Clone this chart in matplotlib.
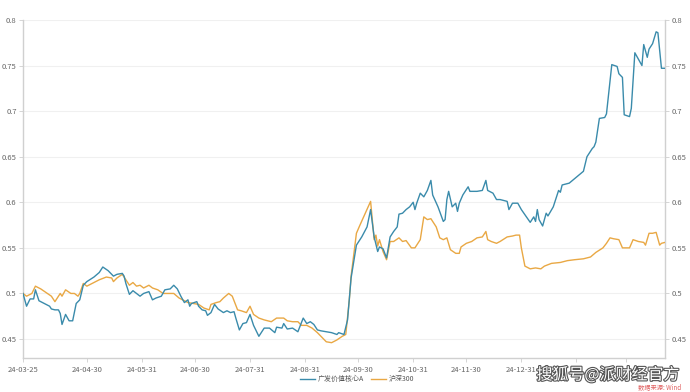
import matplotlib
matplotlib.use("Agg")
import matplotlib.pyplot as plt
import matplotlib.dates as mdates
import matplotlib.patheffects as pe
import numpy as np
import pandas as pd

plt.rcParams['font.family'] = ['Noto Sans CJK SC', 'DejaVu Sans']

start_date = "2024-03-25"
series_names = ["广发价值核心A", "沪深300"]

blue_days = [0,2,4,6,7,9,13,15,16,18,20,21,22,24,26,28,30,32,34,36,40,43,45,48,51,53,56,57,58,60,
             62,64,66,68,71,73,75,78,80,83,85,87,89,91,93,94,95,98,99,101,103,104,106,108,110,113,
             115,117,119,120,122,124,126,128,130,133,136,139,142,143,146,147,149,152,155,158,160,
             162,164,166,168,171,174,177,178,181,183,185,188,191,194,196,198,200,201,203,205,207,
             209,211,212,214,216,218,220,221,222,224,226,228,230,231,234,237,238,239,240,242,244,
             245,246,248,251,252,256,259,261,262,265,267,269,273,274,276,279,281,286,288,289,290,
             291,293,295,296,299,302,303,304,308,316,318,321,322,323,325,328,329,332,335,336,338,
             339,342,343,345,349,350,352,353,355,357,358,360,362]
blue_vals = [0.500,0.486,0.494,0.494,0.504,0.492,0.488,0.486,0.483,0.482,0.482,0.478,0.466,0.477,
             0.470,0.470,0.489,0.493,0.509,0.513,0.518,0.523,0.529,0.525,0.519,0.521,0.522,0.519,
             0.511,0.499,0.503,0.500,0.497,0.500,0.502,0.493,0.495,0.497,0.504,0.505,0.509,0.505,
             0.497,0.490,0.493,0.486,0.489,0.491,0.486,0.482,0.481,0.476,0.479,0.488,0.483,0.479,
             0.481,0.479,0.480,0.473,0.460,0.467,0.468,0.477,0.465,0.453,0.462,0.462,0.457,0.463,
             0.462,0.467,0.461,0.462,0.458,0.473,0.467,0.469,0.466,0.460,0.459,0.458,0.457,0.455,
             0.457,0.455,0.471,0.517,0.553,0.562,0.573,0.592,0.562,0.546,0.551,0.549,0.539,0.562,
             0.568,0.573,0.587,0.588,0.592,0.595,0.600,0.592,0.599,0.610,0.606,0.613,0.624,0.608,
             0.595,0.579,0.581,0.603,0.612,0.595,0.599,0.590,0.599,0.608,0.617,0.612,0.612,0.613,
             0.624,0.613,0.610,0.603,0.603,0.601,0.592,0.599,0.599,0.592,0.578,0.584,0.579,0.592,
             0.581,0.574,0.588,0.585,0.595,0.613,0.611,0.619,0.621,0.634,0.650,0.659,0.661,0.666,
             0.692,0.693,0.697,0.751,0.749,0.741,0.737,0.696,0.694,0.703,0.764,0.750,0.773,0.759,
             0.768,0.774,0.787,0.786,0.747,0.747]

orange_days = [0,2,5,7,10,13,16,18,21,22,24,27,29,31,32,34,36,40,43,47,50,51,53,56,58,60,62,64,66,
               68,71,73,76,79,83,85,88,90,93,96,99,102,105,106,109,111,113,116,118,121,123,126,128,
               130,133,136,140,143,147,149,152,155,157,160,163,166,168,171,174,177,180,182,184,185,
               188,190,193,196,198,199,200,201,203,205,207,209,212,214,216,219,221,224,226,228,230,
               231,233,235,237,239,241,244,246,247,250,253,256,259,261,262,264,267,269,273,276,278,
               280,281,283,286,289,292,294,298,303,307,311,316,320,323,327,329,331,333,336,338,340,
               342,344,347,350,351,353,355,357,359,360,362]
orange_vals = [0.500,0.497,0.500,0.508,0.505,0.501,0.497,0.491,0.500,0.497,0.504,0.500,0.500,0.497,
               0.500,0.511,0.508,0.512,0.515,0.518,0.517,0.513,0.517,0.521,0.515,0.509,0.512,0.508,
               0.509,0.506,0.509,0.506,0.504,0.500,0.500,0.500,0.495,0.493,0.490,0.489,0.488,0.484,
               0.482,0.488,0.490,0.491,0.495,0.500,0.497,0.482,0.481,0.479,0.486,0.477,0.473,0.471,
               0.469,0.473,0.473,0.470,0.469,0.469,0.465,0.465,0.462,0.457,0.453,0.447,0.446,0.449,
               0.453,0.455,0.493,0.519,0.566,0.575,0.588,0.601,0.559,0.564,0.552,0.559,0.546,0.537,
               0.557,0.557,0.561,0.557,0.558,0.550,0.550,0.559,0.584,0.581,0.582,0.579,0.573,0.561,
               0.559,0.561,0.548,0.544,0.544,0.551,0.555,0.557,0.561,0.562,0.568,0.559,0.557,0.555,
               0.557,0.562,0.563,0.564,0.564,0.550,0.530,0.527,0.528,0.527,0.530,0.533,0.534,0.536,
               0.537,0.538,0.540,0.545,0.550,0.555,0.561,0.560,0.559,0.550,0.550,0.550,0.559,0.557,
               0.556,0.553,0.566,0.566,0.567,0.553,0.555,0.556]

tick_dates = ["2024-03-25","2024-04-30","2024-05-31","2024-06-30","2024-07-31","2024-08-31",
              "2024-09-30","2024-10-31","2024-11-30","2024-12-31","2025-01-31","2025-02-28"]
tick_labels = ["24-03-25","24-04-30","24-05-31","24-06-30","24-07-31","24-08-31",
               "24-09-30","24-10-31","24-11-30","24-12-31","",""]
y_ticks = [0.45, 0.5, 0.55, 0.6, 0.65, 0.7, 0.75, 0.8]
y_labels = ["0.45", "0.5", "0.55", "0.6", "0.65", "0.7", "0.75", "0.8"]

blue_color = "#3a8bab"
orange_color = "#e9a844"

t0 = pd.Timestamp(start_date)
blue_x = t0 + pd.to_timedelta(blue_days, unit="D")
orange_x = t0 + pd.to_timedelta(orange_days, unit="D")

fig = plt.figure(figsize=(6.9, 3.92), dpi=100)
ax = fig.add_axes([23/690, 1-358/392, (665-23)/690, (358-19.5)/392])

ax.plot(orange_x, orange_vals, color=orange_color, lw=1.0, label=series_names[1], zorder=3)
ax.plot(blue_x, blue_vals, color=blue_color, lw=1.0, label=series_names[0], zorder=4)

ax.set_xlim(t0, t0 + pd.Timedelta(days=362))
ax.set_ylim(0.4292, 0.8005)
ax.set_yticks(y_ticks)
ax.set_yticklabels(y_labels)
ax.set_xticks(pd.to_datetime(tick_dates))
ax.set_xticklabels(tick_labels)
ax.grid(axis='y', color='#f0f0f0', lw=0.8)
ax.set_axisbelow(True)

ax.spines['top'].set_visible(False)
for s in ['left', 'right', 'bottom']:
    ax.spines[s].set_color('#d0d0d0')
    ax.spines[s].set_linewidth(1.0)

ax.tick_params(axis='both', labelsize=5.5, colors='#cfcfcf', labelcolor='#666666', length=3, width=0.6, pad=1.5)
ax.tick_params(axis='y', which='both', right=True, labelright=True)
ax.tick_params(axis='x', pad=3)

leg = fig.legend(handles=ax.get_lines()[::-1], labels=series_names, loc='center',
                 bbox_to_anchor=(357/690, 1-379/392), ncol=2, frameon=False,
                 fontsize=5, handlelength=2.2, handletextpad=0.4, columnspacing=1.0)
for t in leg.get_texts():
    t.set_color('#555555')

stroke = [pe.withStroke(linewidth=1.6, foreground='#555555')]
fig.text(608/690, 1-375/392, "搜狐号@派财经官方", fontsize=11.5, color='white',
         ha='center', va='center', path_effects=stroke)
fig.text(660/690, 1-387.5/392, "数据来源: Wind", fontsize=4.5, color='#e06060',
         ha='center', va='center')

fig.savefig("out.png", dpi=100, facecolor='white')
